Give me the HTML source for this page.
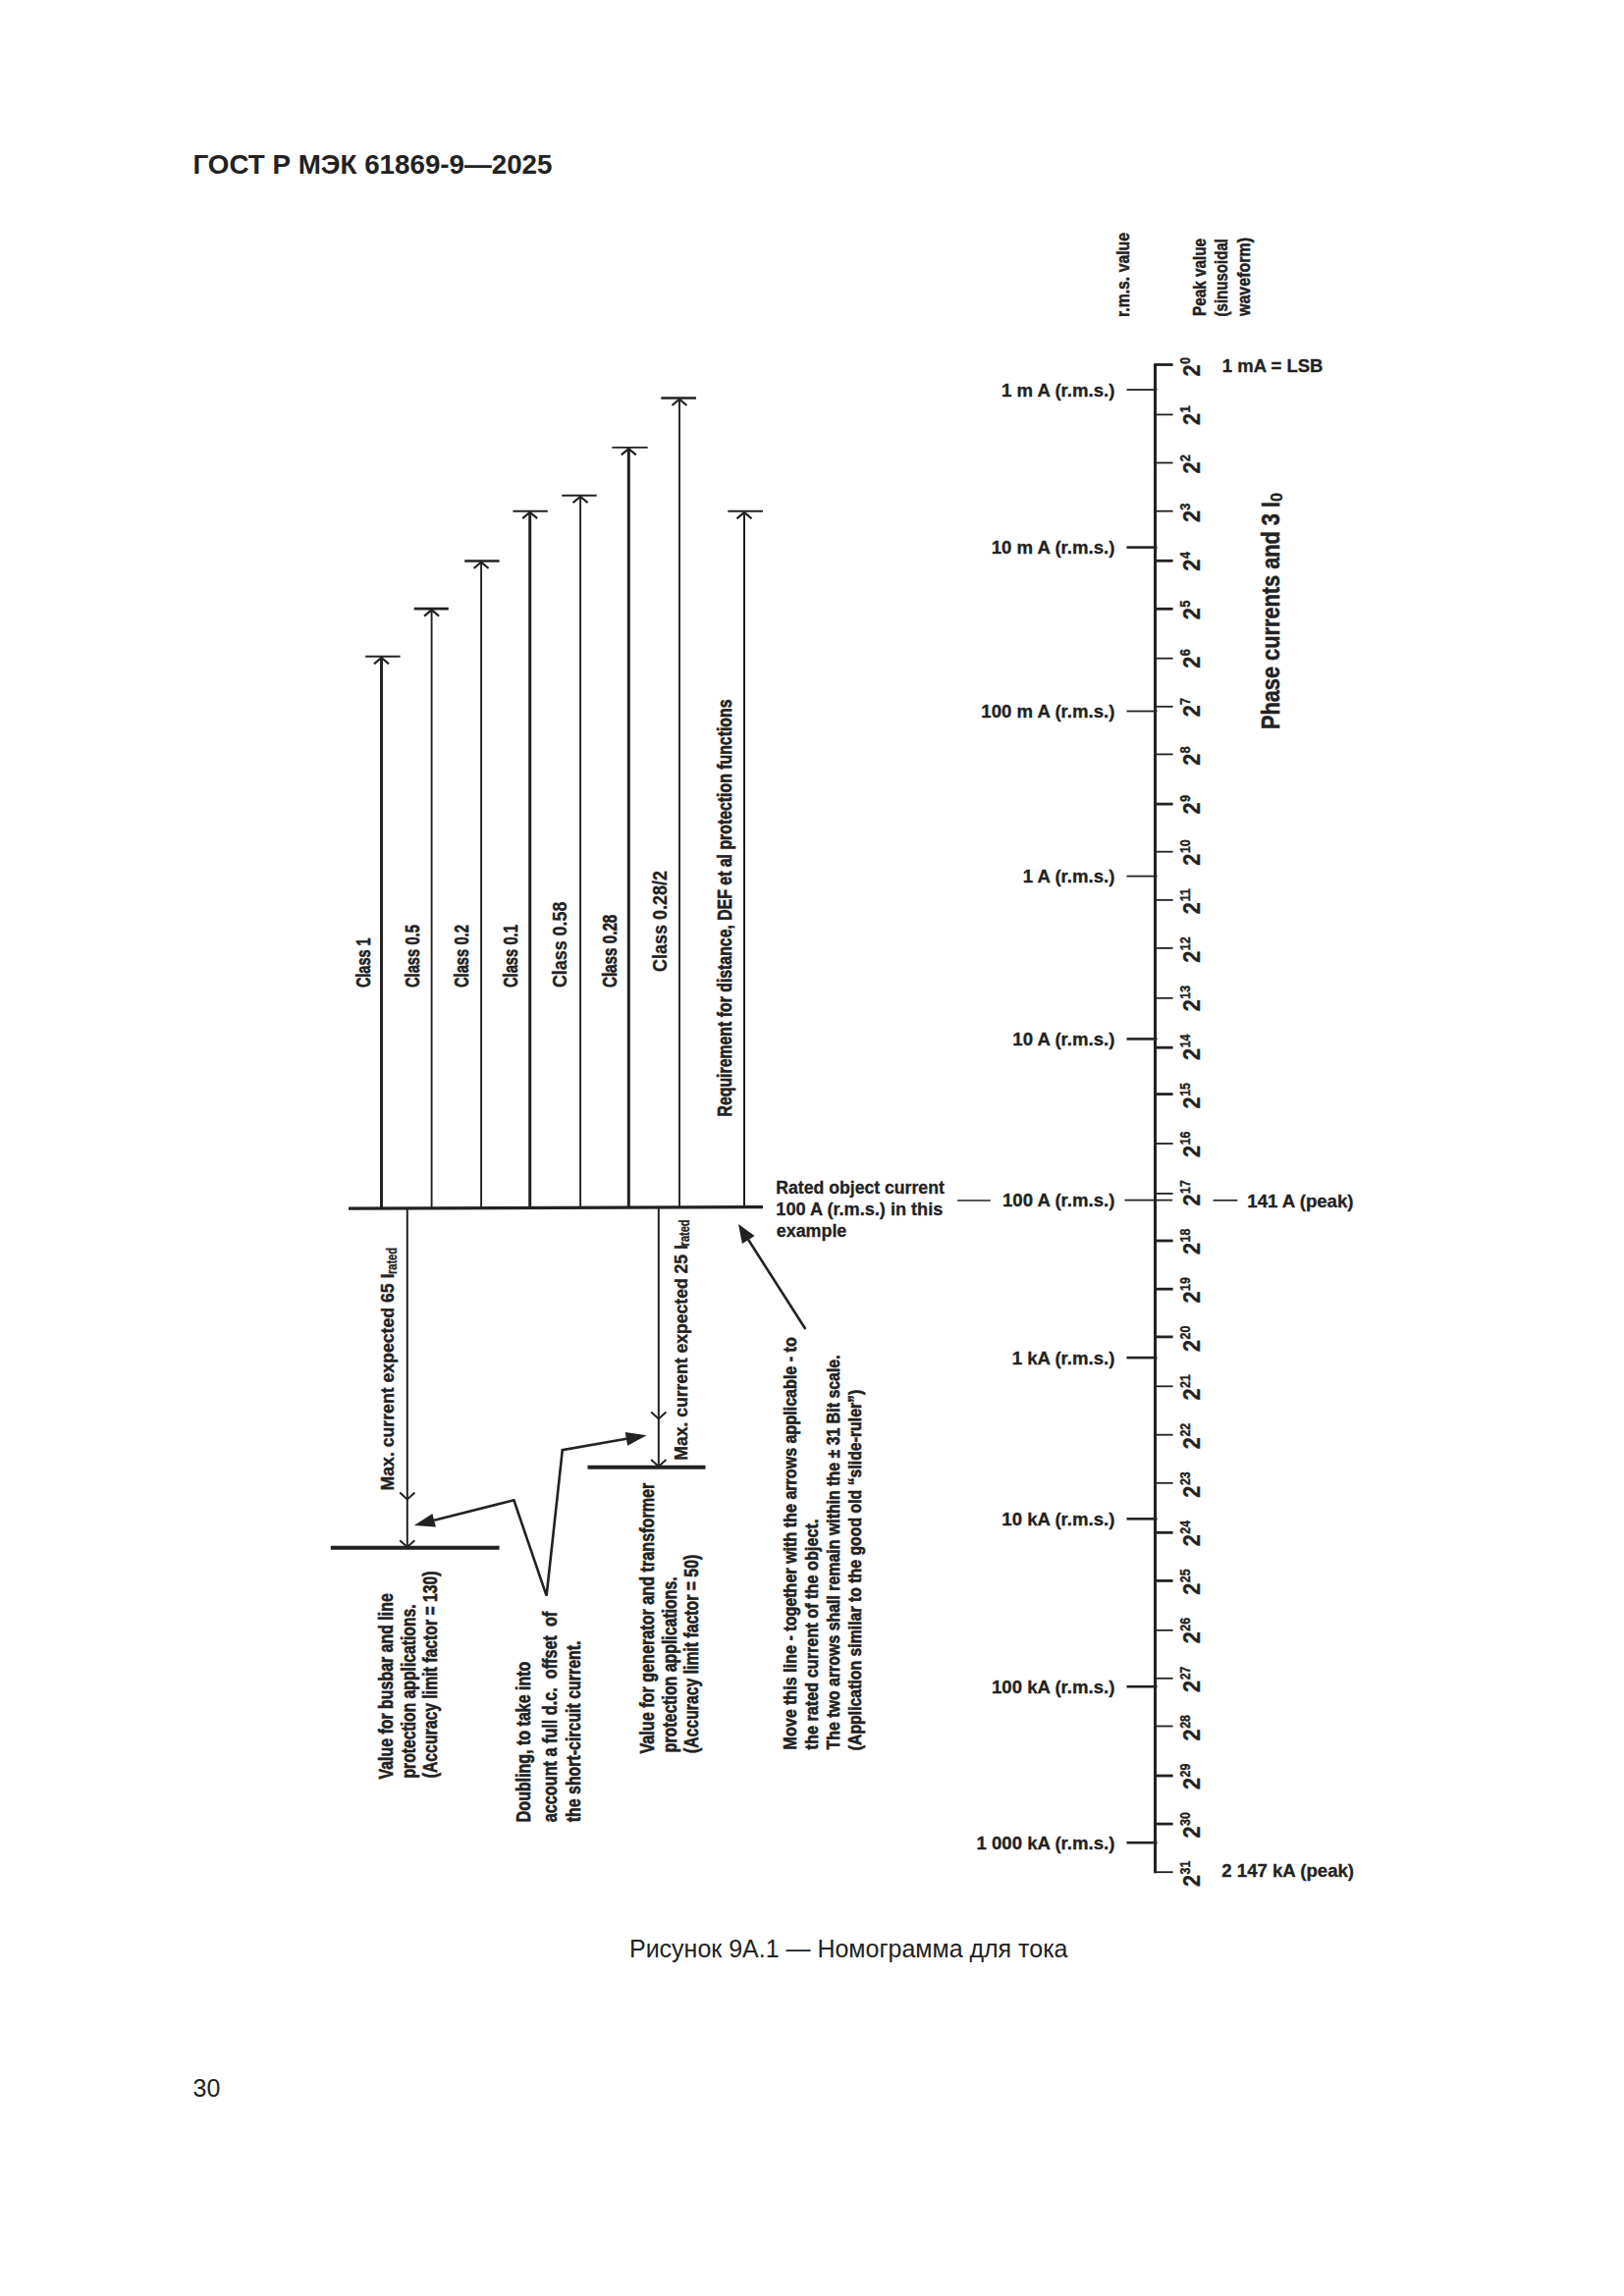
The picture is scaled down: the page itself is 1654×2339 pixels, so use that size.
<!DOCTYPE html>
<html lang="ru">
<head>
<meta charset="utf-8">
<title>ГОСТ Р МЭК 61869-9—2025</title>
<style>
html,body{margin:0;padding:0;background:#fff;}
body{width:1654px;height:2339px;overflow:hidden;}
svg{display:block;}
svg text{font-family:"Liberation Sans", sans-serif;fill:#222;white-space:pre;}
</style>
</head>
<body>
<svg width="1654" height="2339" viewBox="0 0 1654 2339">
<rect width="1654" height="2339" fill="#fff"/>
<text x="196.5" y="177" font-size="27.8" font-weight="bold" textLength="366" lengthAdjust="spacingAndGlyphs">ГОСТ Р МЭК 61869-9—2025</text>
<text x="641" y="1994.2" font-size="25" textLength="446.5" lengthAdjust="spacingAndGlyphs">Рисунок 9А.1 — Номограмма для тока</text>
<text x="196.5" y="2136" font-size="25">30</text>
<g stroke="#222" fill="none">
<line x1="1176.5" y1="370.3" x2="1176.5" y2="1908.3" stroke-width="3"/>
<line x1="1176.5" y1="371.5" x2="1194.6" y2="371.5" stroke-width="2.8"/>
<line x1="1176.5" y1="422.4" x2="1194.6" y2="422.4" stroke-width="1.8"/>
<line x1="1176.5" y1="471.5" x2="1194.6" y2="471.5" stroke-width="1.8"/>
<line x1="1176.5" y1="520.7" x2="1194.6" y2="520.7" stroke-width="1.8"/>
<line x1="1176.5" y1="571.3" x2="1194.6" y2="571.3" stroke-width="2.8"/>
<line x1="1176.5" y1="620.3" x2="1194.6" y2="620.3" stroke-width="2.8"/>
<line x1="1176.5" y1="670.7" x2="1194.6" y2="670.7" stroke-width="1.8"/>
<line x1="1176.5" y1="719.8" x2="1194.6" y2="719.8" stroke-width="1.8"/>
<line x1="1176.5" y1="768.4" x2="1194.6" y2="768.4" stroke-width="1.8"/>
<line x1="1176.5" y1="819.1" x2="1194.6" y2="819.1" stroke-width="2.8"/>
<line x1="1176.5" y1="867.7" x2="1194.6" y2="867.7" stroke-width="1.8"/>
<line x1="1176.5" y1="916.9" x2="1194.6" y2="916.9" stroke-width="1.8"/>
<line x1="1176.5" y1="965.9" x2="1194.6" y2="965.9" stroke-width="1.8"/>
<line x1="1176.5" y1="1016.8" x2="1194.6" y2="1016.8" stroke-width="1.8"/>
<line x1="1176.5" y1="1067.2" x2="1194.6" y2="1067.2" stroke-width="2.8"/>
<line x1="1176.5" y1="1114.6" x2="1194.6" y2="1114.6" stroke-width="2.8"/>
<line x1="1176.5" y1="1165.0" x2="1194.6" y2="1165.0" stroke-width="1.8"/>
<line x1="1176.5" y1="1215.9" x2="1194.6" y2="1215.9" stroke-width="1.8"/>
<line x1="1176.5" y1="1264.0" x2="1194.6" y2="1264.0" stroke-width="2.8"/>
<line x1="1176.5" y1="1313.2" x2="1194.6" y2="1313.2" stroke-width="2.8"/>
<line x1="1176.5" y1="1361.9" x2="1194.6" y2="1361.9" stroke-width="2.8"/>
<line x1="1176.5" y1="1412.3" x2="1194.6" y2="1412.3" stroke-width="1.8"/>
<line x1="1176.5" y1="1461.7" x2="1194.6" y2="1461.7" stroke-width="1.8"/>
<line x1="1176.5" y1="1510.8" x2="1194.6" y2="1510.8" stroke-width="1.8"/>
<line x1="1176.5" y1="1561.3" x2="1194.6" y2="1561.3" stroke-width="2.8"/>
<line x1="1176.5" y1="1610.4" x2="1194.6" y2="1610.4" stroke-width="2.8"/>
<line x1="1176.5" y1="1660.8" x2="1194.6" y2="1660.8" stroke-width="1.8"/>
<line x1="1176.5" y1="1709.8" x2="1194.6" y2="1709.8" stroke-width="1.8"/>
<line x1="1176.5" y1="1758.5" x2="1194.6" y2="1758.5" stroke-width="1.8"/>
<line x1="1176.5" y1="1809.0" x2="1194.6" y2="1809.0" stroke-width="2.8"/>
<line x1="1176.5" y1="1858.1" x2="1194.6" y2="1858.1" stroke-width="2.8"/>
<line x1="1176.5" y1="1907.2" x2="1194.6" y2="1907.2" stroke-width="1.8"/>
<line x1="1147.5" y1="397" x2="1178.5" y2="397" stroke-width="1.8"/>
<line x1="1147.5" y1="557.6" x2="1178.5" y2="557.6" stroke-width="2.6"/>
<line x1="1147.5" y1="724.5" x2="1178.5" y2="724.5" stroke-width="1.8"/>
<line x1="1147.5" y1="892.6" x2="1178.5" y2="892.6" stroke-width="1.8"/>
<line x1="1147.5" y1="1058.4" x2="1178.5" y2="1058.4" stroke-width="2.6"/>
<line x1="1145.5" y1="1222.6" x2="1194" y2="1222.6" stroke-width="1.7"/>
<line x1="1147.5" y1="1383.1" x2="1178.5" y2="1383.1" stroke-width="2.6"/>
<line x1="1147.5" y1="1547.3" x2="1178.5" y2="1547.3" stroke-width="2.6"/>
<line x1="1147.5" y1="1718.2" x2="1178.5" y2="1718.2" stroke-width="2.6"/>
<line x1="1147.5" y1="1877.2" x2="1178.5" y2="1877.2" stroke-width="2.6"/>
<line x1="975" y1="1223" x2="1008.8" y2="1223" stroke-width="1.7"/>
<line x1="1235.5" y1="1222.8" x2="1260.3" y2="1222.8" stroke-width="1.7"/>
</g>
<g font-weight="bold" stroke="#222" stroke-width="0.3">
<text x="1135.4" y="403.8" font-size="18.6" text-anchor="end">1 m A (r.m.s.)</text>
<text x="1135.4" y="564.4" font-size="18.6" text-anchor="end">10 m A (r.m.s.)</text>
<text x="1135.4" y="731.3" font-size="18.6" text-anchor="end">100 m A (r.m.s.)</text>
<text x="1135.4" y="899.4" font-size="18.6" text-anchor="end">1 A (r.m.s.)</text>
<text x="1135.4" y="1065.2" font-size="18.6" text-anchor="end">10 A (r.m.s.)</text>
<text x="1135.4" y="1229.4" font-size="18.6" text-anchor="end">100 A (r.m.s.)</text>
<text x="1135.4" y="1389.9" font-size="18.6" text-anchor="end">1 kA (r.m.s.)</text>
<text x="1135.4" y="1554.1" font-size="18.6" text-anchor="end">10 kA (r.m.s.)</text>
<text x="1135.4" y="1725.0" font-size="18.6" text-anchor="end">100 kA (r.m.s.)</text>
<text x="1135.4" y="1884.0" font-size="18.6" text-anchor="end">1 000 kA (r.m.s.)</text>
<text x="1244.8" y="378.5" font-size="18.5">1 mA = LSB</text>
<text x="1270.3" y="1230" font-size="18.6">141 A (peak)</text>
<text x="1244.3" y="1912.4" font-size="18.6">2 147 kA (peak)</text>
<text x="790.3" y="1215.5" font-size="18.3" textLength="171.5" lengthAdjust="spacingAndGlyphs">Rated object current</text>
<text x="790.3" y="1237.5" font-size="18.3" textLength="170" lengthAdjust="spacingAndGlyphs">100 A (r.m.s.) in this</text>
<text x="790.8" y="1259.8" font-size="18.3" textLength="71.5" lengthAdjust="spacingAndGlyphs">example</text>
<text transform="translate(1222,377.5) rotate(-90) scale(0.93,1)" font-size="23.3" text-anchor="middle">2</text>
<text transform="translate(1211.7,367.5) rotate(-90) scale(0.88,1)" font-size="14.6" text-anchor="middle" stroke="#222" stroke-width="0.4">0</text>
<text transform="translate(1222,427.0) rotate(-90) scale(0.93,1)" font-size="23.3" text-anchor="middle">2</text>
<text transform="translate(1211.7,417.0) rotate(-90) scale(0.88,1)" font-size="14.6" text-anchor="middle" stroke="#222" stroke-width="0.4">1</text>
<text transform="translate(1222,476.6) rotate(-90) scale(0.93,1)" font-size="23.3" text-anchor="middle">2</text>
<text transform="translate(1211.7,466.6) rotate(-90) scale(0.88,1)" font-size="14.6" text-anchor="middle" stroke="#222" stroke-width="0.4">2</text>
<text transform="translate(1222,526.1) rotate(-90) scale(0.93,1)" font-size="23.3" text-anchor="middle">2</text>
<text transform="translate(1211.7,516.1) rotate(-90) scale(0.88,1)" font-size="14.6" text-anchor="middle" stroke="#222" stroke-width="0.4">3</text>
<text transform="translate(1222,575.7) rotate(-90) scale(0.93,1)" font-size="23.3" text-anchor="middle">2</text>
<text transform="translate(1211.7,565.7) rotate(-90) scale(0.88,1)" font-size="14.6" text-anchor="middle" stroke="#222" stroke-width="0.4">4</text>
<text transform="translate(1222,625.2) rotate(-90) scale(0.93,1)" font-size="23.3" text-anchor="middle">2</text>
<text transform="translate(1211.7,615.2) rotate(-90) scale(0.88,1)" font-size="14.6" text-anchor="middle" stroke="#222" stroke-width="0.4">5</text>
<text transform="translate(1222,674.7) rotate(-90) scale(0.93,1)" font-size="23.3" text-anchor="middle">2</text>
<text transform="translate(1211.7,664.7) rotate(-90) scale(0.88,1)" font-size="14.6" text-anchor="middle" stroke="#222" stroke-width="0.4">6</text>
<text transform="translate(1222,724.3) rotate(-90) scale(0.93,1)" font-size="23.3" text-anchor="middle">2</text>
<text transform="translate(1211.7,714.3) rotate(-90) scale(0.88,1)" font-size="14.6" text-anchor="middle" stroke="#222" stroke-width="0.4">7</text>
<text transform="translate(1222,773.8) rotate(-90) scale(0.93,1)" font-size="23.3" text-anchor="middle">2</text>
<text transform="translate(1211.7,763.8) rotate(-90) scale(0.88,1)" font-size="14.6" text-anchor="middle" stroke="#222" stroke-width="0.4">8</text>
<text transform="translate(1222,823.4) rotate(-90) scale(0.93,1)" font-size="23.3" text-anchor="middle">2</text>
<text transform="translate(1211.7,813.4) rotate(-90) scale(0.88,1)" font-size="14.6" text-anchor="middle" stroke="#222" stroke-width="0.4">9</text>
<text transform="translate(1222,875.7) rotate(-90) scale(0.93,1)" font-size="23.3" text-anchor="middle">2</text>
<text transform="translate(1211.7,862.2) rotate(-90) scale(0.85,1)" font-size="14.6" text-anchor="middle" stroke="#222" stroke-width="0.4">10</text>
<text transform="translate(1222,925.2) rotate(-90) scale(0.93,1)" font-size="23.3" text-anchor="middle">2</text>
<text transform="translate(1211.7,911.7) rotate(-90) scale(0.85,1)" font-size="14.6" text-anchor="middle" stroke="#222" stroke-width="0.4">11</text>
<text transform="translate(1222,974.8) rotate(-90) scale(0.93,1)" font-size="23.3" text-anchor="middle">2</text>
<text transform="translate(1211.7,961.3) rotate(-90) scale(0.85,1)" font-size="14.6" text-anchor="middle" stroke="#222" stroke-width="0.4">12</text>
<text transform="translate(1222,1024.3) rotate(-90) scale(0.93,1)" font-size="23.3" text-anchor="middle">2</text>
<text transform="translate(1211.7,1010.8) rotate(-90) scale(0.85,1)" font-size="14.6" text-anchor="middle" stroke="#222" stroke-width="0.4">13</text>
<text transform="translate(1222,1073.9) rotate(-90) scale(0.93,1)" font-size="23.3" text-anchor="middle">2</text>
<text transform="translate(1211.7,1060.4) rotate(-90) scale(0.85,1)" font-size="14.6" text-anchor="middle" stroke="#222" stroke-width="0.4">14</text>
<text transform="translate(1222,1123.4) rotate(-90) scale(0.93,1)" font-size="23.3" text-anchor="middle">2</text>
<text transform="translate(1211.7,1109.9) rotate(-90) scale(0.85,1)" font-size="14.6" text-anchor="middle" stroke="#222" stroke-width="0.4">15</text>
<text transform="translate(1222,1172.9) rotate(-90) scale(0.93,1)" font-size="23.3" text-anchor="middle">2</text>
<text transform="translate(1211.7,1159.4) rotate(-90) scale(0.85,1)" font-size="14.6" text-anchor="middle" stroke="#222" stroke-width="0.4">16</text>
<text transform="translate(1222,1222.5) rotate(-90) scale(0.93,1)" font-size="23.3" text-anchor="middle">2</text>
<text transform="translate(1211.7,1209.0) rotate(-90) scale(0.85,1)" font-size="14.6" text-anchor="middle" stroke="#222" stroke-width="0.4">17</text>
<text transform="translate(1222,1272.0) rotate(-90) scale(0.93,1)" font-size="23.3" text-anchor="middle">2</text>
<text transform="translate(1211.7,1258.5) rotate(-90) scale(0.85,1)" font-size="14.6" text-anchor="middle" stroke="#222" stroke-width="0.4">18</text>
<text transform="translate(1222,1321.6) rotate(-90) scale(0.93,1)" font-size="23.3" text-anchor="middle">2</text>
<text transform="translate(1211.7,1308.1) rotate(-90) scale(0.85,1)" font-size="14.6" text-anchor="middle" stroke="#222" stroke-width="0.4">19</text>
<text transform="translate(1222,1371.1) rotate(-90) scale(0.93,1)" font-size="23.3" text-anchor="middle">2</text>
<text transform="translate(1211.7,1357.6) rotate(-90) scale(0.85,1)" font-size="14.6" text-anchor="middle" stroke="#222" stroke-width="0.4">20</text>
<text transform="translate(1222,1420.6) rotate(-90) scale(0.93,1)" font-size="23.3" text-anchor="middle">2</text>
<text transform="translate(1211.7,1407.1) rotate(-90) scale(0.85,1)" font-size="14.6" text-anchor="middle" stroke="#222" stroke-width="0.4">21</text>
<text transform="translate(1222,1470.2) rotate(-90) scale(0.93,1)" font-size="23.3" text-anchor="middle">2</text>
<text transform="translate(1211.7,1456.7) rotate(-90) scale(0.85,1)" font-size="14.6" text-anchor="middle" stroke="#222" stroke-width="0.4">22</text>
<text transform="translate(1222,1519.7) rotate(-90) scale(0.93,1)" font-size="23.3" text-anchor="middle">2</text>
<text transform="translate(1211.7,1506.2) rotate(-90) scale(0.85,1)" font-size="14.6" text-anchor="middle" stroke="#222" stroke-width="0.4">23</text>
<text transform="translate(1222,1569.3) rotate(-90) scale(0.93,1)" font-size="23.3" text-anchor="middle">2</text>
<text transform="translate(1211.7,1555.8) rotate(-90) scale(0.85,1)" font-size="14.6" text-anchor="middle" stroke="#222" stroke-width="0.4">24</text>
<text transform="translate(1222,1618.8) rotate(-90) scale(0.93,1)" font-size="23.3" text-anchor="middle">2</text>
<text transform="translate(1211.7,1605.3) rotate(-90) scale(0.85,1)" font-size="14.6" text-anchor="middle" stroke="#222" stroke-width="0.4">25</text>
<text transform="translate(1222,1668.3) rotate(-90) scale(0.93,1)" font-size="23.3" text-anchor="middle">2</text>
<text transform="translate(1211.7,1654.8) rotate(-90) scale(0.85,1)" font-size="14.6" text-anchor="middle" stroke="#222" stroke-width="0.4">26</text>
<text transform="translate(1222,1717.9) rotate(-90) scale(0.93,1)" font-size="23.3" text-anchor="middle">2</text>
<text transform="translate(1211.7,1704.4) rotate(-90) scale(0.85,1)" font-size="14.6" text-anchor="middle" stroke="#222" stroke-width="0.4">27</text>
<text transform="translate(1222,1767.4) rotate(-90) scale(0.93,1)" font-size="23.3" text-anchor="middle">2</text>
<text transform="translate(1211.7,1753.9) rotate(-90) scale(0.85,1)" font-size="14.6" text-anchor="middle" stroke="#222" stroke-width="0.4">28</text>
<text transform="translate(1222,1817.0) rotate(-90) scale(0.93,1)" font-size="23.3" text-anchor="middle">2</text>
<text transform="translate(1211.7,1803.5) rotate(-90) scale(0.85,1)" font-size="14.6" text-anchor="middle" stroke="#222" stroke-width="0.4">29</text>
<text transform="translate(1222,1866.5) rotate(-90) scale(0.93,1)" font-size="23.3" text-anchor="middle">2</text>
<text transform="translate(1211.7,1853.0) rotate(-90) scale(0.85,1)" font-size="14.6" text-anchor="middle" stroke="#222" stroke-width="0.4">30</text>
<text transform="translate(1222,1916.0) rotate(-90) scale(0.93,1)" font-size="23.3" text-anchor="middle">2</text>
<text transform="translate(1211.7,1902.5) rotate(-90) scale(0.85,1)" font-size="14.6" text-anchor="middle" stroke="#222" stroke-width="0.4">31</text>
<text transform="translate(1150,323) rotate(-90)" font-size="19" textLength="86" lengthAdjust="spacingAndGlyphs" stroke="#222" stroke-width="0.5">r.m.s. value</text>
<text transform="translate(1228.4,322) rotate(-90)" font-size="19" textLength="79" lengthAdjust="spacingAndGlyphs" stroke="#222" stroke-width="0.5">Peak value</text>
<text transform="translate(1249.5,322.5) rotate(-90)" font-size="19" textLength="79.5" lengthAdjust="spacingAndGlyphs" stroke="#222" stroke-width="0.5">(sinusoidal</text>
<text transform="translate(1272.5,322) rotate(-90)" font-size="19" textLength="80" lengthAdjust="spacingAndGlyphs" stroke="#222" stroke-width="0.5">waveform)</text>
<text transform="translate(1302.5,743) rotate(-90)" font-size="25.3" textLength="232" lengthAdjust="spacingAndGlyphs" stroke="#222" stroke-width="0.5">Phase currents and 3 I</text>
<text transform="translate(1305.6,511) rotate(-90)" font-size="16">0</text>
</g>
<g stroke="#222" fill="none">
<line x1="388.5" y1="668.8" x2="388.5" y2="1231" stroke-width="3.0"/>
<line x1="372.2" y1="668.8" x2="407.6" y2="668.8" stroke-width="1.9"/>
<polyline points="381.0,676.3 388.5,670.0 396.0,676.3" fill="none" stroke-width="2.2" stroke-linejoin="miter"/>
<line x1="439.6" y1="620.1" x2="439.6" y2="1231" stroke-width="1.9"/>
<line x1="421.7" y1="620.1" x2="456.8" y2="620.1" stroke-width="2.6"/>
<polyline points="432.1,627.6 439.6,621.3000000000001 447.1,627.6" fill="none" stroke-width="2.2" stroke-linejoin="miter"/>
<line x1="490.1" y1="571.5" x2="490.1" y2="1231" stroke-width="1.9"/>
<line x1="473.2" y1="571.5" x2="508.6" y2="571.5" stroke-width="2.6"/>
<polyline points="482.6,579.0 490.1,572.7 497.6,579.0" fill="none" stroke-width="2.2" stroke-linejoin="miter"/>
<line x1="539.7" y1="520.7" x2="539.7" y2="1231" stroke-width="3.0"/>
<line x1="522.4" y1="520.7" x2="557.8" y2="520.7" stroke-width="1.9"/>
<polyline points="532.2,528.2 539.7,521.9000000000001 547.2,528.2" fill="none" stroke-width="2.2" stroke-linejoin="miter"/>
<line x1="591.1" y1="504.7" x2="591.1" y2="1231" stroke-width="1.9"/>
<line x1="572.3" y1="504.7" x2="607.7" y2="504.7" stroke-width="1.9"/>
<polyline points="583.6,512.2 591.1,505.9 598.6,512.2" fill="none" stroke-width="2.2" stroke-linejoin="miter"/>
<line x1="640.3" y1="455.9" x2="640.3" y2="1231" stroke-width="3.0"/>
<line x1="623.4" y1="455.9" x2="659.7" y2="455.9" stroke-width="1.9"/>
<polyline points="632.8,463.4 640.3,457.09999999999997 647.8,463.4" fill="none" stroke-width="2.2" stroke-linejoin="miter"/>
<line x1="692.0" y1="405.5" x2="692.0" y2="1231" stroke-width="1.9"/>
<line x1="673.3" y1="405.5" x2="709.0" y2="405.5" stroke-width="2.6"/>
<polyline points="684.5,413.0 692.0,406.7 699.5,413.0" fill="none" stroke-width="2.2" stroke-linejoin="miter"/>
<line x1="758.0" y1="520.8" x2="758.0" y2="1231" stroke-width="2.0"/>
<line x1="741.3" y1="520.8" x2="777.0" y2="520.8" stroke-width="1.9"/>
<polyline points="750.5,528.3 758.0,522.0 765.5,528.3" fill="none" stroke-width="2.2" stroke-linejoin="miter"/>
<line x1="355" y1="1231.2" x2="777" y2="1229.6" stroke-width="3.2"/>
<line x1="414.8" y1="1231" x2="414.8" y2="1577" stroke-width="2"/>
<polyline points="407.2,1520.5 414.8,1527.5 422.4,1520.5" fill="none" stroke-width="2" stroke-linejoin="miter"/>
<polyline points="407.2,1569.2 414.8,1576 422.4,1569.2" fill="none" stroke-width="2" stroke-linejoin="miter"/>
<line x1="336.8" y1="1576.8" x2="508.6" y2="1576.8" stroke-width="4"/>
<line x1="670.8" y1="1231" x2="670.8" y2="1495" stroke-width="2"/>
<polyline points="663.2,1438.5 670.8,1445.5 678.4,1438.5" fill="none" stroke-width="2" stroke-linejoin="miter"/>
<polyline points="663.2,1487 670.8,1494 678.4,1487" fill="none" stroke-width="2" stroke-linejoin="miter"/>
<line x1="598.5" y1="1494.8" x2="718.5" y2="1494.8" stroke-width="4"/>
</g>
<polygon points="421.8,1554.0 440.4,1542.1 443.9,1555.6" fill="#222" stroke="none"/>
<polygon points="658.6,1462.2 639.1,1472.7 636.7,1458.9" fill="#222" stroke="none"/>
<g stroke="#222" fill="none">
<polyline points="442.1587693576802,1548.8501931841301 523.4,1528.3 556.6,1625.7 572.8,1477.2 637.9137464098477,1465.8164779003764" fill="none" stroke-width="2.6" stroke-linejoin="miter"/>
</g>
<polygon points="752.0,1247.0 768.6,1259.0 755.9,1267.0" fill="#222" stroke="none"/>
<g stroke="#222" fill="none">
<line x1="762.2" y1="1263.0" x2="820.4" y2="1354" stroke-width="2.6"/>
</g>
<text transform="translate(376.9,1006.1) rotate(-90)" font-size="19.5" font-weight="bold" textLength="50.7" lengthAdjust="spacingAndGlyphs" stroke="#222" stroke-width="0.6">Class 1</text>
<text transform="translate(426.5,1006.1) rotate(-90)" font-size="19.5" font-weight="bold" textLength="64" lengthAdjust="spacingAndGlyphs" stroke="#222" stroke-width="0.6">Class 0.5</text>
<text transform="translate(477.2,1006.1) rotate(-90)" font-size="19.5" font-weight="bold" textLength="64" lengthAdjust="spacingAndGlyphs" stroke="#222" stroke-width="0.6">Class 0.2</text>
<text transform="translate(527.2,1006.1) rotate(-90)" font-size="19.5" font-weight="bold" textLength="64" lengthAdjust="spacingAndGlyphs" stroke="#222" stroke-width="0.6">Class 0.1</text>
<text transform="translate(577.4,1006.1) rotate(-90)" font-size="20.3" font-weight="bold" textLength="87.5" lengthAdjust="spacingAndGlyphs" stroke="#222" stroke-width="0.3">Class 0.58</text>
<text transform="translate(628.0,1006.1) rotate(-90)" font-size="19.5" font-weight="bold" textLength="74.4" lengthAdjust="spacingAndGlyphs" stroke="#222" stroke-width="0.6">Class 0.28</text>
<text transform="translate(678.7,989.9) rotate(-90)" font-size="20.3" font-weight="bold" textLength="103" lengthAdjust="spacingAndGlyphs" stroke="#222" stroke-width="0.3">Class 0.28/2</text>
<text transform="translate(744.8,1137.5) rotate(-90)" font-size="19.3" font-weight="bold" textLength="425" lengthAdjust="spacingAndGlyphs" stroke="#222" stroke-width="0.6">Requirement for distance, DEF et al protection functions</text>
<text transform="translate(401,1518.5) rotate(-90)" font-size="19" font-weight="bold" textLength="221" lengthAdjust="spacingAndGlyphs" stroke="#222" stroke-width="0.4">Max. current expected 65 I</text>
<text transform="translate(404,1298) rotate(-90)" font-size="14" font-weight="bold" textLength="27" lengthAdjust="spacingAndGlyphs" stroke="#222" stroke-width="0.3">rated</text>
<text transform="translate(699.6,1487.7) rotate(-90)" font-size="19" font-weight="bold" textLength="219.5" lengthAdjust="spacingAndGlyphs" stroke="#222" stroke-width="0.4">Max. current expected 25 I</text>
<text transform="translate(702.2,1269.4) rotate(-90)" font-size="14" font-weight="bold" textLength="27" lengthAdjust="spacingAndGlyphs" stroke="#222" stroke-width="0.3">rated</text>
<text transform="translate(400.3,1812.6) rotate(-90)" font-size="20" font-weight="bold" textLength="189.4" lengthAdjust="spacingAndGlyphs" stroke="#222" stroke-width="0.6">Value for busbar and line</text>
<text transform="translate(423.3,1811.5) rotate(-90)" font-size="20" font-weight="bold" textLength="177.1" lengthAdjust="spacingAndGlyphs" stroke="#222" stroke-width="0.6">protection applications.</text>
<text transform="translate(445.2,1811.3) rotate(-90)" font-size="20" font-weight="bold" textLength="210.9" lengthAdjust="spacingAndGlyphs" stroke="#222" stroke-width="0.6">(Accuracy limit factor = 130)</text>
<text transform="translate(539.8,1856.2) rotate(-90)" font-size="20" font-weight="bold" textLength="163.6" lengthAdjust="spacingAndGlyphs" stroke="#222" stroke-width="0.6">Doubling, to take into</text>
<text transform="translate(566.7,1856.2) rotate(-90)" font-size="20" font-weight="bold" textLength="214.4" lengthAdjust="spacingAndGlyphs" stroke="#222" stroke-width="0.6">account a full d.c.  offset  of</text>
<text transform="translate(590.6,1856.2) rotate(-90)" font-size="20" font-weight="bold" textLength="184.6" lengthAdjust="spacingAndGlyphs" stroke="#222" stroke-width="0.6">the short-circuit current.</text>
<text transform="translate(665.5,1786.6) rotate(-90)" font-size="20" font-weight="bold" textLength="276" lengthAdjust="spacingAndGlyphs" stroke="#222" stroke-width="0.6">Value for generator and transformer</text>
<text transform="translate(688.6,1785.3) rotate(-90)" font-size="20" font-weight="bold" textLength="179" lengthAdjust="spacingAndGlyphs" stroke="#222" stroke-width="0.6">protection applications.</text>
<text transform="translate(711.1,1786.1) rotate(-90)" font-size="20" font-weight="bold" textLength="202.3" lengthAdjust="spacingAndGlyphs" stroke="#222" stroke-width="0.6">(Accuracy limit factor = 50)</text>
<text transform="translate(811.0,1782.4) rotate(-90)" font-size="19" font-weight="bold" textLength="420.2" lengthAdjust="spacingAndGlyphs" stroke="#222" stroke-width="0.6">Move this line - together with the arrows applicable - to</text>
<text transform="translate(832.5,1782.4) rotate(-90)" font-size="19" font-weight="bold" textLength="234.8" lengthAdjust="spacingAndGlyphs" stroke="#222" stroke-width="0.6">the rated current of the object.</text>
<text transform="translate(854.5,1782.4) rotate(-90)" font-size="19" font-weight="bold" textLength="402" lengthAdjust="spacingAndGlyphs" stroke="#222" stroke-width="0.6">The two arrows shall remain within the ± 31 Bit scale.</text>
<text transform="translate(876.5,1783.3) rotate(-90)" font-size="19" font-weight="bold" textLength="367.6" lengthAdjust="spacingAndGlyphs" stroke="#222" stroke-width="0.6">(Application similar to the good old “slide-ruler”)</text>
</svg>
</body>
</html>
